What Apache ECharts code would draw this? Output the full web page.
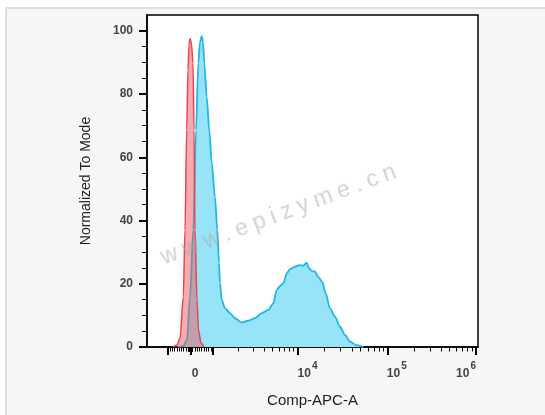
<!DOCTYPE html>
<html><head><meta charset="utf-8">
<script src="https://cdn.jsdelivr.net/npm/echarts@6/dist/echarts.min.js"></script>
<style>
html,body{margin:0;padding:0;background:#fff;}
#bg{position:absolute;left:5px;top:7px;width:540px;height:408px;background:#f6f6f6;border-top:2px solid #e0e0e0;border-left:2px solid #e0e0e0;box-sizing:border-box;}
#chart{position:absolute;left:0;top:0;width:545px;height:415px;}
#wm{position:absolute;left:281px;top:213px;transform:translate(-50%,-50%) rotate(-20.5deg);font:23px "Liberation Sans",Arial,sans-serif;letter-spacing:6px;color:rgba(165,165,165,0.5);white-space:nowrap;pointer-events:none;}
</style></head><body>
<div id="bg"></div><div id="chart"></div><div id="wm">www.epizyme.cn</div>
<script>
// Histogram data in display (channel) units 0..1000 across the biexponential axis
const blueX = [93.7,108.8,120.8,129.9,139.9,148.0,155.0,160.1,165.3,169.2,173.1,180.4,188.2,195.5,205.4,212.4,217.5,220.5,225.7,235.6,250.8,265.9,286.1,306.0,326.3,346.5,366.5,381.6,391.8,401.8,411.8,422.0,432.0,447.1,462.2,472.2,482.5,489.4,497.6,507.6,517.5,529.6,539.9,552.9,568.0,583.1,598.2,613.4,633.5,653.5];
const blueY = [0,0.3,2.2,15.8,37.0,68.6,89.8,96.4,98.3,96.4,89.8,79.0,68.6,58.2,47.4,37.0,26.6,20.2,14.9,12.3,10.7,9.1,7.7,8.3,9.1,10.7,11.7,13.8,18.0,19.3,20.1,23.3,24.6,25.4,25.9,25.7,26.7,24.9,24.1,23.8,22.2,20.6,17.0,12.2,9.6,6.4,3.8,1.7,0.6,0];
const redX = [78.5,90.6,99.7,109.7,114.8,119.9,123.9,126.9,129.9,133.8,139.0,142.0,145.0,151.1,155.6,163.1,172.2];
const redY = [0,0.6,2.8,15.8,37.0,68.6,87.6,95.5,97.5,96.4,89.8,68.6,37.0,14.9,5.4,1.3,0];

// Axis ticks (fluorescence values) and labels
const xMajorValues = [-1000, 0, 1000, 1e4, 1e5, 1e6];
const xMinorValues = [-900,-800,-700,-600,-500,-400,-300,-200,-100,-90,-80,-70,-60,-50,-40,-30,-20,-10,
  10,20,30,40,50,60,70,80,90,100,200,300,400,500,600,700,800,900,
  2000,3000,4000,5000,6000,7000,8000,9000,
  2e4,3e4,4e4,5e4,6e4,7e4,8e4,9e4,
  2e5,3e5,4e5,5e5,6e5,7e5,8e5,9e5];
const xLabelValues = [0, 1e4, 1e5, 1e6];
const xLabelTexts = ['{z|0}', '{b4|10}{s|4}', '{b5|10}{s|5}', '{b|10}{s6|6}'];
const yMajorValues = [0, 20, 40, 60, 80, 100];
const yMinorValues = [5,10,15,25,30,35,45,50,55,65,70,75,85,90,95];

// biexponential-like display transform (value -> display units)
const X0 = 131.4;
const logAnchors = [[3, 68], [4, 323.3], [5, 596.1], [6, 862.6]];
function T(v) {
  const a = Math.abs(v), s = v < 0 ? -1 : 1;
  let off;
  if (a <= 1000) off = 68 * a / 1000;
  else {
    const l = Math.log10(a);
    let i = 0;
    while (i < logAnchors.length - 2 && l > logAnchors[i + 1][0]) i++;
    const p = logAnchors[i], q = logAnchors[i + 1];
    off = p[1] + (l - p[0]) / (q[0] - p[0]) * (q[1] - p[1]);
  }
  return X0 + s * off;
}

const FONT = '"Liberation Sans", Arial, sans-serif';
const labelVals = xLabelValues.map(T);
const base = {fontSize: 12, fontWeight: 'bold', color: '#444', fontFamily: FONT, lineHeight: 13, padding: [7, 0, 0, 0]};
const sup = {fontSize: 10, fontWeight: 'bold', color: '#444', fontFamily: FONT, lineHeight: 10, padding: [0, 0, 8, 1]};

const chart = echarts.init(document.getElementById('chart'), null, {renderer: 'canvas'});
chart.setOption({
  animation: false,
  backgroundColor: 'transparent',
  grid: {left: 147, top: 15, width: 331, height: 332, show: true, backgroundColor: '#fff', borderColor: '#000', borderWidth: 1.5, containLabel: false},
  xAxis: [{
    type: 'value', min: 0, max: 1000, position: 'bottom',
    name: 'Comp-APC-A', nameLocation: 'middle', nameGap: 46,
    nameTextStyle: {fontSize: 15, color: '#222', fontFamily: FONT},
    axisLine: {show: true, lineStyle: {color: '#000', width: 1.5}},
    axisTick: {show: true, customValues: xMajorValues.map(T), length: 8, lineStyle: {color: '#000', width: 2}},
    axisLabel: {
      show: true, customValues: labelVals, margin: 17, showMinLabel: true, showMaxLabel: true,
      formatter: function (v) {
        let best = 0;
        for (let i = 1; i < labelVals.length; i++) if (Math.abs(labelVals[i] - v) < Math.abs(labelVals[best] - v)) best = i;
        return xLabelTexts[best];
      },
      rich: {
        z: Object.assign({}, base, {padding: [7, 0, 0, 9]}),
        b: base,
        b4: Object.assign({}, base, {padding: [7, 0, 0, 20]}),
        b5: Object.assign({}, base, {padding: [7, 0, 0, 18]}),
        s: sup,
        s6: Object.assign({}, sup, {padding: [0, 20, 8, 1]})
      }
    },
    splitLine: {show: false}
  }, {
    type: 'value', min: 0, max: 1000, position: 'bottom', offset: 0,
    axisLine: {show: false},
    axisTick: {show: true, customValues: xMinorValues.map(T), length: 4.5, lineStyle: {color: '#000', width: 1}},
    axisLabel: {show: false},
    splitLine: {show: false}
  }],
  yAxis: [{
    type: 'value', min: 0, max: 105, position: 'left',
    name: 'Normalized To Mode', nameLocation: 'middle', nameGap: 54,
    nameTextStyle: {fontSize: 14, color: '#222', fontFamily: FONT},
    axisLine: {show: true, lineStyle: {color: '#000', width: 1.5}},
    axisTick: {show: true, customValues: yMajorValues, length: 8, lineStyle: {color: '#000', width: 2}},
    axisLabel: {show: true, customValues: yMajorValues, margin: 14, fontSize: 12, fontWeight: 'bold', color: '#444', fontFamily: FONT},
    splitLine: {show: false}
  }, {
    type: 'value', min: 0, max: 105, position: 'left', offset: 0,
    axisLine: {show: false},
    axisTick: {show: true, customValues: yMinorValues, length: 5, lineStyle: {color: '#000', width: 1}},
    axisLabel: {show: false},
    splitLine: {show: false}
  }],
  series: [{
    type: 'line', xAxisIndex: 0, yAxisIndex: 0,
    data: blueX.map((x, i) => [x, blueY[i]]),
    showSymbol: false, smooth: 0.3, smoothMonotone: 'x',
    lineStyle: {color: '#1fb6e8', width: 1.8},
    areaStyle: {color: '#97e4f9', opacity: 1},
    z: 2
  }, {
    type: 'line', xAxisIndex: 0, yAxisIndex: 0,
    data: redX.map((x, i) => [x, redY[i]]),
    showSymbol: false, smooth: 0.3, smoothMonotone: 'x',
    lineStyle: {color: '#e8464c', width: 1.5},
    areaStyle: {color: 'rgba(236,90,95,0.5)', opacity: 1},
    z: 3
  }]
});
</script>
</body></html>
